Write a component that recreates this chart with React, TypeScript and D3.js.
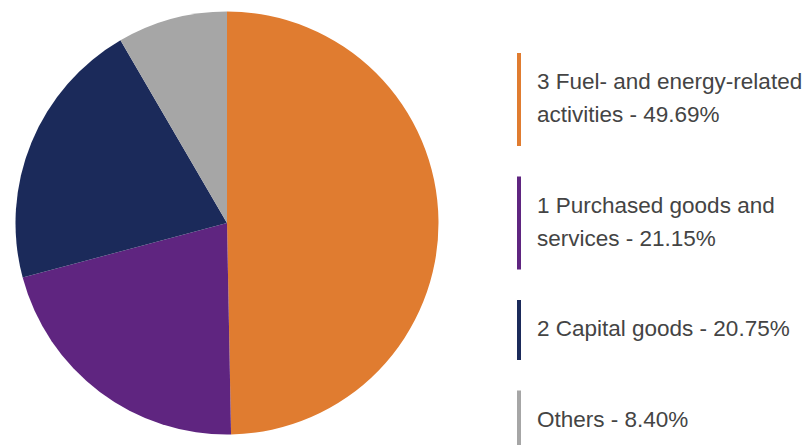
import React from "react";
import * as d3 from "d3";

const categories = [
  "3 Fuel- and energy-related activities",
  "1 Purchased goods and services",
  "2 Capital goods",
  "Others",
];
const values = [49.69, 21.15, 20.75, 8.4];
const colors = ["#E07C30", "#5F2580", "#1B2A5A", "#A6A6A6"];

const W = 809;
const H = 445;
const FONT = "'Liberation Sans', Arial, sans-serif";
const FONT_SIZE = 22.5;

function measure(text: string): number {
  const c = document.createElement("canvas").getContext("2d");
  if (!c) return text.length * FONT_SIZE * 0.5;
  c.font = `${FONT_SIZE}px ${FONT}`;
  return c.measureText(text).width;
}

function wrap(text: string, maxW: number): string[] {
  const words = text.split(" ");
  const lines: string[] = [];
  let cur = "";
  for (const w of words) {
    const t = cur ? cur + " " + w : w;
    if (measure(t) > maxW && cur) {
      lines.push(cur);
      cur = w;
    } else cur = t;
  }
  if (cur) lines.push(cur);
  return lines;
}

export default function App() {
  const cx = 227;
  const cy = 223;
  const r = 211.5;
  const pie = d3.pie<number>().sort(null).startAngle(0).endAngle(2 * Math.PI);
  const arcs = pie(values);
  const arcGen = d3.arc<d3.PieArcDatum<number>>().innerRadius(0).outerRadius(r);

  const legendX = 517;
  const textX = 537;
  const lineH = 33;
  const gap = 30.5;
  let y = 53;
  const items = categories.map((c, i) => {
    const lines = wrap(`${c} - ${values[i].toFixed(2)}%`, 275);
    const barH = 27 + lines.length * lineH;
    const item = { y, lines, barH, color: colors[i] };
    y += barH + gap;
    return item;
  });

  return (
    <svg
      width={W}
      height={H}
      style={{ position: "absolute", left: 0, top: 0, background: "#fff" }}
    >
      <g transform={`translate(${cx},${cy})`}>
        {arcs.map((a, i) => (
          <path key={i} d={arcGen(a) || ""} fill={colors[i]} />
        ))}
      </g>
      {items.map((it, i) => (
        <g key={i}>
          <rect x={legendX} y={it.y} width={4} height={it.barH} fill={it.color} />
          {it.lines.map((ln, j) => (
            <text
              key={j}
              x={textX}
              y={it.y + 36 + j * lineH}
              fontFamily={FONT}
              fontSize={FONT_SIZE}
              fill="#444444"
            >
              {ln}
            </text>
          ))}
        </g>
      ))}
    </svg>
  );
}
